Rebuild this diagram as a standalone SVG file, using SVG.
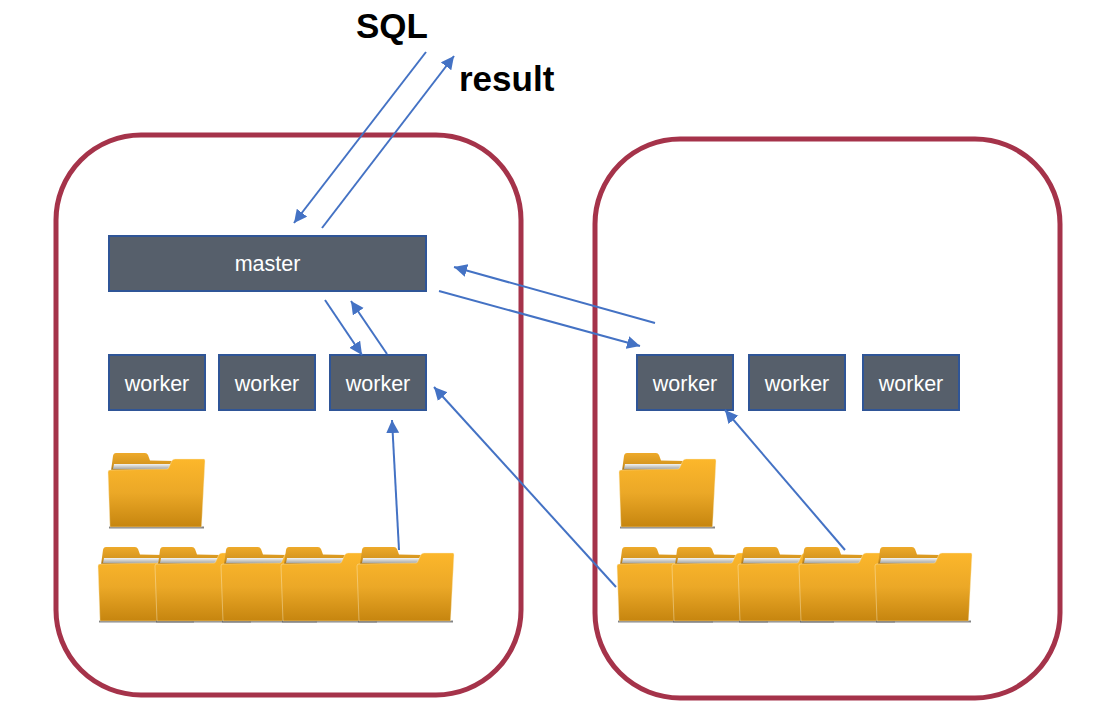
<svg xmlns="http://www.w3.org/2000/svg" xmlns:xlink="http://www.w3.org/1999/xlink" width="1094" height="725" viewBox="0 0 1094 725">
<style>
.box{fill:#565f6b;stroke:#2f5597;stroke-width:2}
.lbl{font-family:"Liberation Sans",Arial,sans-serif;font-size:21.500px;fill:#fff;text-anchor:middle}
.big{font-family:"Liberation Sans",Arial,sans-serif;font-size:35px;font-weight:bold;fill:#000}
.zone{fill:none;stroke:#a5334a;stroke-width:5}
.conn{fill:none;stroke:#4472c4;stroke-width:2;marker-end:url(#arr)}
</style>
<defs>
<marker id="arr" markerUnits="userSpaceOnUse" markerWidth="15" markerHeight="14" refX="13" refY="6.500" orient="auto"><path d="M0,0L13,6.500L0,13Z" fill="#4472c4"/></marker>
<linearGradient id="fr" x1="0" y1="0" x2="0" y2="1"><stop offset="0" stop-color="#fcb72b"/><stop offset=".5" stop-color="#eba827"/><stop offset="1" stop-color="#c6850f"/></linearGradient>
<linearGradient id="tb" x1="0" y1="0" x2="0" y2="1"><stop offset="0" stop-color="#eeaa2a"/><stop offset=".6" stop-color="#d6961f"/><stop offset="1" stop-color="#94661a"/></linearGradient>
<linearGradient id="pp" x1="0" y1="0" x2="0" y2="1"><stop offset="0" stop-color="#f4f4f2"/><stop offset="1" stop-color="#a8a8a4"/></linearGradient>
<filter id="sh" x="-5%" y="-100%" width="110%" height="300%"><feGaussianBlur stdDeviation=".7"/></filter>
<g id="folder">
<rect x="1" y="74.500" width="95" height="2" fill="#666" opacity=".8" filter="url(#sh)"/>
<path d="M3,19L5,4Q5.500,1 8,1L37,1Q39,1 40,3L42,8.500L66,9L66,20L3,20Z" fill="url(#tb)"/>
<path d="M6,12L63,12L60.500,17L5,17Z" fill="url(#pp)"/>
<path d="M0,20Q0,18 2,18L59,17Q60.500,17 61,15L64,8.500Q65,7 67,7L96,7Q97,7 97,9L93.500,75L2,75Z" fill="url(#fr)" stroke="#fbeecb" stroke-opacity=".6" stroke-width=".7"/>
</g>
</defs>
<rect width="1094" height="725" fill="#fff"/>
<rect id="zone-left" class="zone" x="56" y="135" width="465" height="560" rx="85" ry="85"/>
<rect id="zone-right" class="zone" x="595" y="139" width="465" height="559" rx="85" ry="85"/>
<g id="folders-left">
<use id="fl0" xlink:href="#folder" href="#folder" x="108" y="452"/>
<use id="fl1" xlink:href="#folder" href="#folder" x="98" y="546"/>
<use id="fl2" xlink:href="#folder" href="#folder" x="155" y="546"/>
<use id="fl3" xlink:href="#folder" href="#folder" x="221" y="546"/>
<use id="fl4" xlink:href="#folder" href="#folder" x="281" y="546"/>
<use id="fl5" xlink:href="#folder" href="#folder" x="357" y="546"/>
</g>
<g id="folders-right">
<use id="fr0" xlink:href="#folder" href="#folder" x="619" y="452"/>
<use id="fr1" xlink:href="#folder" href="#folder" x="617" y="546"/>
<use id="fr2" xlink:href="#folder" href="#folder" x="672" y="546"/>
<use id="fr3" xlink:href="#folder" href="#folder" x="738" y="546"/>
<use id="fr4" xlink:href="#folder" href="#folder" x="799" y="546"/>
<use id="fr5" xlink:href="#folder" href="#folder" x="875" y="546"/>
</g>
<g id="master"><rect class="box" x="109" y="236" width="317" height="55"/><text class="lbl" x="267.500" y="271">master</text></g>
<g id="w1"><rect class="box" x="109" y="355" width="96" height="55"/><text class="lbl" x="157" y="391">worker</text></g>
<g id="w2"><rect class="box" x="219" y="355" width="96" height="55"/><text class="lbl" x="267" y="391">worker</text></g>
<g id="w3"><rect class="box" x="330" y="355" width="96" height="55"/><text class="lbl" x="378" y="391">worker</text></g>
<g id="w4"><rect class="box" x="637" y="355" width="96" height="55"/><text class="lbl" x="685" y="391">worker</text></g>
<g id="w5"><rect class="box" x="749" y="355" width="96" height="55"/><text class="lbl" x="797" y="391">worker</text></g>
<g id="w6"><rect class="box" x="863" y="355" width="96" height="55"/><text class="lbl" x="911" y="391">worker</text></g>
<g id="sql"><text class="big" x="356" y="38">SQL</text></g>
<g id="result"><text class="big" x="459" y="91">result</text></g>
<g id="connectors">
<line class="conn" x1="426" y1="52" x2="294" y2="223"/>
<line class="conn" x1="322" y1="228" x2="454" y2="56"/>
<line class="conn" x1="325" y1="300" x2="362" y2="355"/>
<line class="conn" x1="387" y1="354" x2="351" y2="301"/>
<line class="conn" x1="439" y1="291" x2="640" y2="346"/>
<line class="conn" x1="655" y1="323" x2="454" y2="267"/>
<line class="conn" x1="399" y1="550" x2="392" y2="420"/>
<line class="conn" x1="616" y1="587" x2="434" y2="387"/>
<line class="conn" x1="845" y1="550" x2="725" y2="410"/>
</g>
</svg>
